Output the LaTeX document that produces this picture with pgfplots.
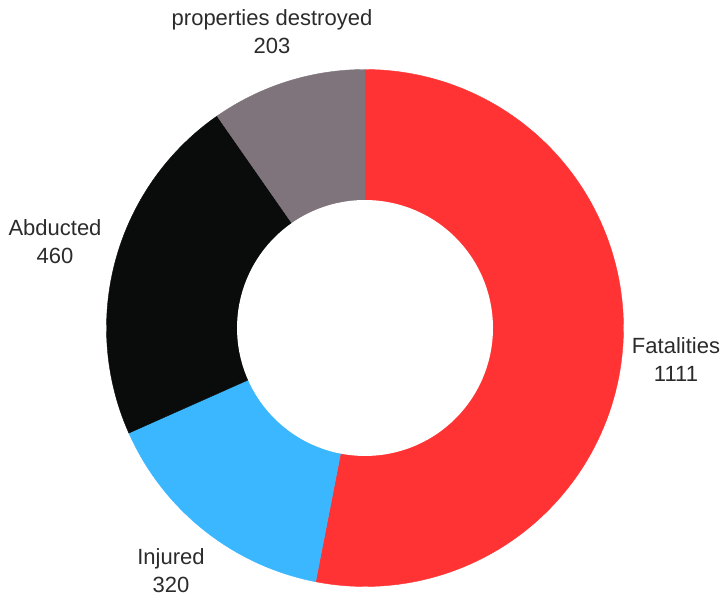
\documentclass[border=0pt]{standalone}
\usepackage{pgfplots}
\pgfplotsset{compat=1.18}
\usepackage{fontspec}
\setmainfont{Liberation Sans}

\definecolor{cFat}{HTML}{FF3333}
\definecolor{cInj}{HTML}{3AB7FF}
\definecolor{cAbd}{HTML}{0A0C0C}
\definecolor{cPro}{HTML}{7F747B}
\definecolor{txt}{HTML}{2B2B2B}
\tikzset{lbl/.style={font=\fontsize{16.5}{21}\selectfont, text=txt, align=center, inner sep=0pt}}

% slice values
\def\vFat{1111}
\def\vInj{320}
\def\vAbd{460}
\def\vPro{203}

\begin{document}
\begin{tikzpicture}
\pgfmathsetmacro{\tot}{\vFat+\vInj+\vAbd+\vPro}
\pgfmathsetmacro{\aA}{90}
\pgfmathsetmacro{\aB}{\aA-\vFat/\tot*360}
\pgfmathsetmacro{\aC}{\aB-\vInj/\tot*360}
\pgfmathsetmacro{\aD}{\aC-\vAbd/\tot*360}
\pgfmathsetmacro{\aE}{\aD-\vPro/\tot*360}
\def\cx{365}\def\cy{271}\def\R{258.5}\def\r{128}
\begin{axis}[
    width=540pt, height=449.25pt, scale only axis,
    xmin=0, xmax=720, ymin=0, ymax=599,
    hide axis, clip=false,
]
\addplot[fill=cFat, draw=cFat, line width=0.3pt, domain=\aB:\aA, samples=120]
    ({\cx+\R*cos(x)},{\cy+\R*sin(x)}) -- (axis cs:\cx,\cy) -- cycle;
\addplot[fill=cInj, draw=cInj, line width=0.3pt, domain=\aC:\aB, samples=60]
    ({\cx+\R*cos(x)},{\cy+\R*sin(x)}) -- (axis cs:\cx,\cy) -- cycle;
\addplot[fill=cAbd, draw=cAbd, line width=0.3pt, domain=\aD:\aC, samples=60]
    ({\cx+\R*cos(x)},{\cy+\R*sin(x)}) -- (axis cs:\cx,\cy) -- cycle;
\addplot[fill=cPro, draw=cPro, line width=0.3pt, domain=\aE:\aD, samples=40]
    ({\cx+\R*cos(x)},{\cy+\R*sin(x)}) -- (axis cs:\cx,\cy) -- cycle;
% hole
\addplot[fill=white, draw=none, domain=0:360, samples=120]
    ({\cx+\r*cos(x)},{\cy+\r*sin(x)}) -- cycle;

\node[lbl] at (axis cs:676,239) {Fatalities\\1111};
\node[lbl] at (axis cs:171,28) {Injured\\320};
\node[lbl] at (axis cs:55,357) {Abducted\\460};
\node[lbl] at (axis cs:272,567) {properties destroyed\\203};
\end{axis}
\pgfresetboundingbox
\useasboundingbox (current axis.south west) rectangle (current axis.north east);
\end{tikzpicture}
\end{document}
